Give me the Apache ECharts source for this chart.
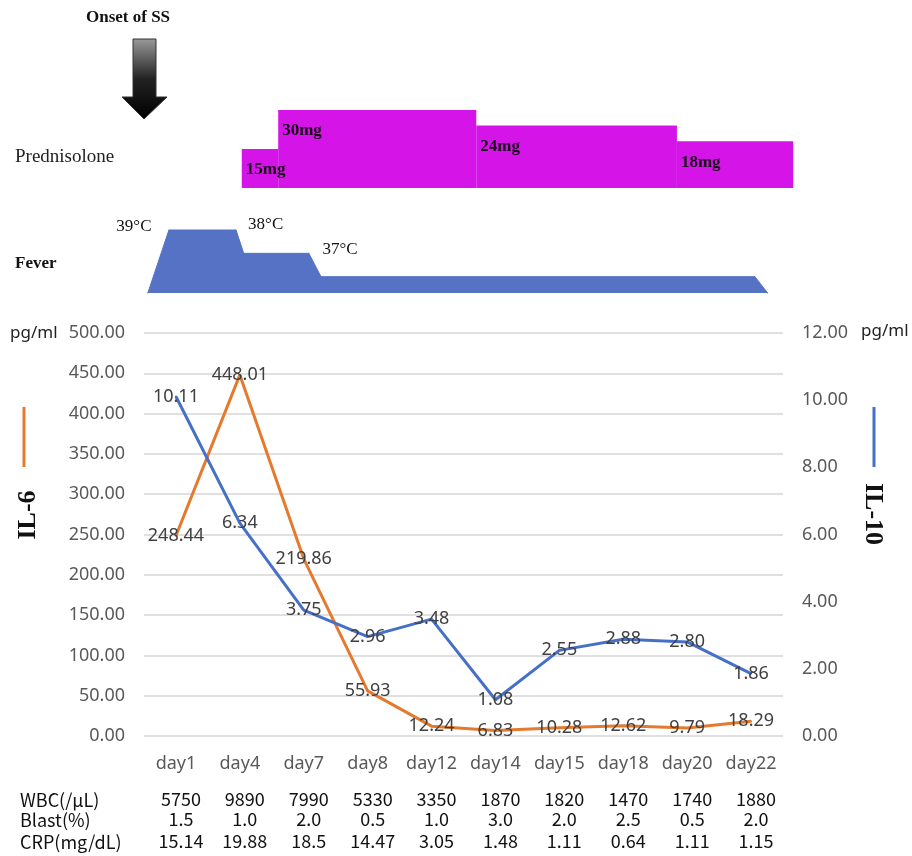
<!DOCTYPE html>
<html>
<head>
<meta charset="utf-8">
<script src="https://cdn.jsdelivr.net/npm/echarts@6/dist/echarts.min.js"></script>
<style>
  html, body { margin: 0; padding: 0; background: #fff; }
  #chart { width: 912px; height: 856px; }
</style>
</head>
<body>
<div id="chart"></div>
<script>
// Sampling days
const days = ['day1', 'day4', 'day7', 'day8', 'day12', 'day14', 'day15', 'day18', 'day20', 'day22'];

// Serum cytokines (pg/ml)
const il6 = [248.44, 448.01, 219.86, 55.93, 12.24, 6.83, 10.28, 12.62, 9.79, 18.29];
const il10 = [10.11, 6.34, 3.75, 2.96, 3.48, 1.08, 2.55, 2.88, 2.80, 1.86];

// Laboratory table rows
const wbc = ['5750', '9890', '7990', '5330', '3350', '1870', '1820', '1470', '1740', '1880'];
const blast = ['1.5', '1.0', '2.0', '0.5', '1.0', '3.0', '2.0', '2.5', '0.5', '2.0'];
const crp = ['15.14', '19.88', '18.5', '14.47', '3.05', '1.48', '1.11', '0.64', '1.11', '1.15'];

// Prednisolone course on the day-index timeline (start, end) and daily dose in mg
const predStart = [1.03, 1.6, 4.7, 7.84];
const predEnd = [1.6, 4.7, 7.84, 9.66];
const predDose = [15, 30, 24, 18];

// Fever course outline: timeline position and body temperature (°C)
const feverPos = [-0.44, -0.11, 0.94, 1.06, 2.08, 2.27, 9.06, 9.26];
const feverTemp = [36.3, 39, 39, 38, 38, 37, 37, 36.3];
const feverLabels = { 1: '39°C', 3: '38°C', 5: '37°C' };
const feverLabelOffsets = { 1: [-35, -3], 3: [22, -29], 5: [19, -27] };

const ORANGE = '#E57A2E';
const BLUE = '#4670C8';
const MAGENTA = '#D515E8';
const FEVER = '#5572C4';
const SANS = '"Noto Sans", "DejaVu Sans", sans-serif';
const SERIF = '"Liberation Serif", "DejaVu Serif", serif';
const JP = '"Noto Sans CJK JP", "Noto Sans", sans-serif';

const chart = echarts.init(document.getElementById('chart'), null, { renderer: 'canvas' });

const tableAxis = (data, offset) => ({
  type: 'category',
  gridIndex: 0,
  position: 'bottom',
  offset: offset,
  data: data,
  axisLine: { show: false },
  axisTick: { show: false },
  splitLine: { show: false },
  axisLabel: {
    interval: 0, margin: 0, fontSize: 18, color: '#111',
    fontFamily: JP, padding: [0, 0, 0, 10]
  }
});

const option = {
  animation: false,
  backgroundColor: '#fff',
  grid: [
    { left: 144, top: 333, width: 639, height: 403 },
    { left: 144, top: 84, width: 639, height: 104 },
    { left: 144, top: 223, width: 639, height: 70 }
  ],
  xAxis: [
    {
      type: 'category', gridIndex: 0, data: days, boundaryGap: true,
      axisLine: { show: false }, axisTick: { show: false },
      axisLabel: { fontSize: 18, color: '#595959', fontFamily: SANS, margin: 19, interval: 0 }
    },
    tableAxis(wbc, 54),
    tableAxis(blast, 74),
    tableAxis(crp, 96),
    { type: 'value', gridIndex: 1, min: -0.5, max: 9.5, show: false },
    { type: 'value', gridIndex: 2, min: -0.5, max: 9.5, show: false }
  ],
  yAxis: [
    {
      type: 'value', gridIndex: 0, min: 0, max: 500, interval: 50,
      axisLine: { show: false }, axisTick: { show: false },
      splitLine: { lineStyle: { color: '#d6d6d6', width: 1.5 } },
      axisLabel: { fontSize: 18, color: '#595959', fontFamily: SANS, margin: 19,
        formatter: v => v.toFixed(2) }
    },
    {
      type: 'value', gridIndex: 0, position: 'right', min: 0, max: 12, interval: 2,
      axisLine: { show: false }, axisTick: { show: false }, splitLine: { show: false },
      axisLabel: { fontSize: 18, color: '#595959', fontFamily: SANS, margin: 19,
        formatter: v => v.toFixed(2) }
    },
    { type: 'value', gridIndex: 1, min: 0, max: 40, show: false },
    { type: 'value', gridIndex: 2, min: 36.3, max: 39.3, show: false }
  ],
  series: [
    {
      name: 'IL-6', type: 'line', xAxisIndex: 0, yAxisIndex: 0, data: il6,
      symbol: 'circle', symbolSize: 2, itemStyle: { color: ORANGE },
      lineStyle: { color: ORANGE, width: 3 }, z: 3,
      label: { show: true, position: 'inside', fontSize: 18, color: '#404040', fontFamily: SANS,
        formatter: p => p.value.toFixed(2) }
    },
    {
      name: 'IL-10', type: 'line', xAxisIndex: 0, yAxisIndex: 1, data: il10,
      symbol: 'circle', symbolSize: 2, itemStyle: { color: BLUE },
      lineStyle: { color: BLUE, width: 3 }, z: 3,
      label: { show: true, position: 'inside', fontSize: 18, color: '#404040', fontFamily: SANS,
        formatter: p => p.value.toFixed(2) }
    },
    {
      name: 'Prednisolone', type: 'custom', xAxisIndex: 4, yAxisIndex: 2, clip: false,
      encode: { x: [0, 1], y: 2 },
      data: predStart.map((s, i) => [s, predEnd[i], predDose[i]]),
      renderItem: (params, api) => {
        const p0 = api.coord([api.value(0), api.value(2)]);
        const p1 = api.coord([api.value(1), 0]);
        return {
          type: 'group',
          children: [
            { type: 'rect', z2: 1,
              shape: { x: p0[0], y: p0[1], width: p1[0] - p0[0], height: p1[1] - p0[1] },
              style: { fill: MAGENTA } },
            { type: 'text', z2: 50, x: p0[0] + 4, y: p0[1] + 21,
              style: { text: api.value(2) + 'mg', fill: '#1a0a1a', fontFamily: SERIF,
                fontWeight: 'bold', fontSize: 17, align: 'left', verticalAlign: 'middle' } }
          ]
        };
      }
    },
    {
      name: 'Fever', type: 'line', xAxisIndex: 5, yAxisIndex: 3,
      data: feverPos.map((x, i) => {
        const item = { value: [x, feverTemp[i]] };
        if (feverLabels[i]) {
          item.label = { show: true, position: 'inside', offset: feverLabelOffsets[i],
            formatter: feverLabels[i], fontFamily: SERIF, fontSize: 17, color: '#111' };
        }
        return item;
      }),
      symbol: 'circle', symbolSize: 1, itemStyle: { color: FEVER },
      lineStyle: { color: FEVER, width: 1 },
      areaStyle: { color: FEVER, opacity: 1, origin: 'start' }
    }
  ],
  graphic: [
    { type: 'text', left: 86, top: 9,
      style: { text: 'Onset of SS', fontFamily: SERIF, fontWeight: 'bold', fontSize: 17, fill: '#111' } },
    { type: 'polygon',
      shape: { points: [[133, 39], [156, 39], [156, 97], [167, 97], [144, 119], [122, 97], [133, 97]] },
      style: {
        fill: new echarts.graphic.LinearGradient(0, 0, 0, 1, [
          { offset: 0, color: '#9a9a9a' },
          { offset: 0.5, color: '#222' },
          { offset: 1, color: '#000' }
        ]),
        stroke: '#333', lineWidth: 1
      } },
    { type: 'text', x: 15, y: 157,
      style: { text: 'Prednisolone', fontFamily: SERIF, fontSize: 19, fill: '#222', verticalAlign: 'middle' } },
    { type: 'text', x: 15, y: 264,
      style: { text: 'Fever', fontFamily: SERIF, fontWeight: 'bold', fontSize: 17, fill: '#111', verticalAlign: 'middle' } },
    { type: 'text', x: 10, y: 333,
      style: { text: 'pg/ml', fontFamily: SANS, fontSize: 17, fill: '#222', verticalAlign: 'middle' } },
    { type: 'text', x: 861, y: 331,
      style: { text: 'pg/ml', fontFamily: SANS, fontSize: 17, fill: '#222', verticalAlign: 'middle' } },
    { type: 'line', shape: { x1: 24, y1: 407, x2: 24, y2: 467 }, style: { stroke: ORANGE, lineWidth: 3 } },
    { type: 'text', x: 28, y: 515, rotation: Math.PI / 2,
      style: { text: 'IL-6', fontFamily: SERIF, fontWeight: 'bold', fontSize: 26, fill: '#111',
        align: 'center', verticalAlign: 'middle' } },
    { type: 'line', shape: { x1: 874, y1: 407, x2: 874, y2: 467 }, style: { stroke: BLUE, lineWidth: 3 } },
    { type: 'text', x: 873, y: 514, rotation: -Math.PI / 2,
      style: { text: 'IL-10', fontFamily: SERIF, fontWeight: 'bold', fontSize: 26, fill: '#111',
        align: 'center', verticalAlign: 'middle' } },
    { type: 'text', x: 20, y: 800,
      style: { text: 'WBC(/μL)', fontFamily: JP, fontSize: 18, fill: '#111', verticalAlign: 'middle' } },
    { type: 'text', x: 20, y: 820,
      style: { text: 'Blast(%)', fontFamily: JP, fontSize: 18, fill: '#111', verticalAlign: 'middle' } },
    { type: 'text', x: 20, y: 842,
      style: { text: 'CRP(mg/dL)', fontFamily: JP, fontSize: 18, fill: '#111', verticalAlign: 'middle' } }
  ]
};

chart.setOption(option);
</script>
</body>
</html>
